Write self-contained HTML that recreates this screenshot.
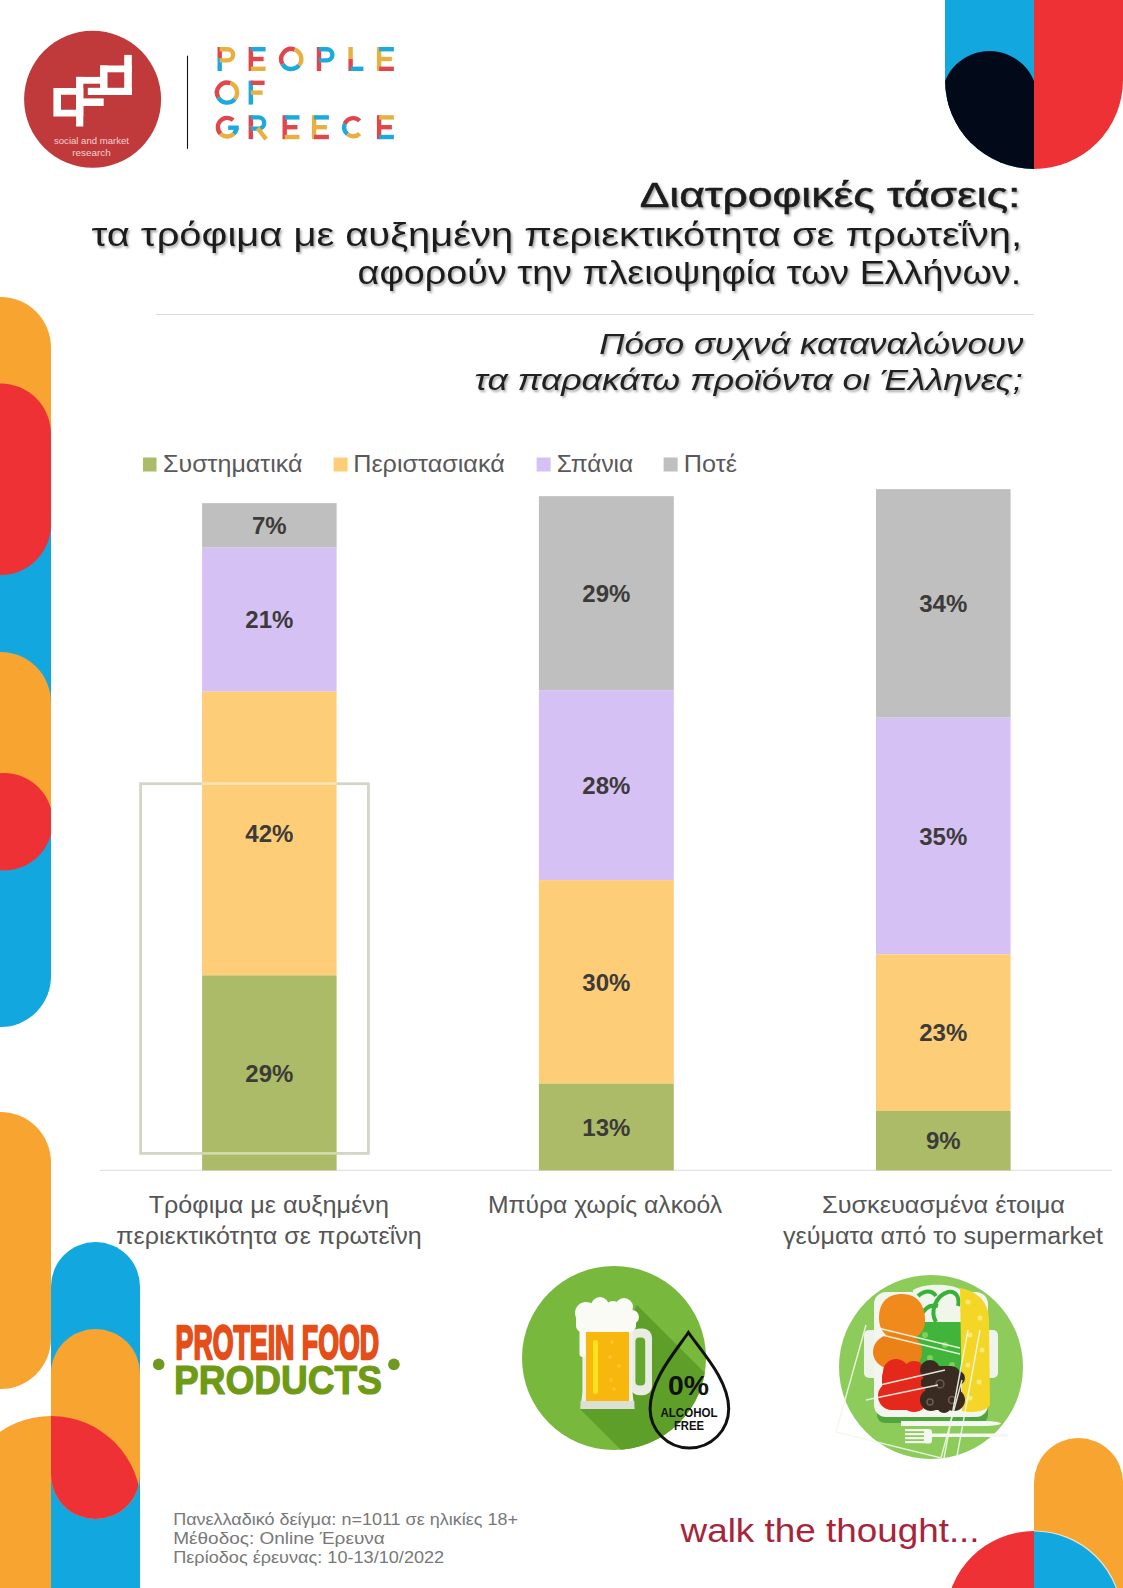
<!DOCTYPE html>
<html><head><meta charset="utf-8">
<style>
html,body{margin:0;padding:0;background:#fff;}
body{width:1123px;height:1588px;overflow:hidden;position:relative;}
svg{position:absolute;left:0;top:0;}
text{font-family:"Liberation Sans",sans-serif;}
</style></head>
<body>
<svg width="1123" height="1588" viewBox="0 0 1123 1588">
<defs>
<filter id="sh" x="-5%" y="-30%" width="110%" height="160%">
<feDropShadow dx="1.5" dy="2" stdDeviation="1.2" flood-color="#000" flood-opacity="0.35"/>
</filter>
<clipPath id="cCol"><rect x="945" y="0" width="89" height="200"/></clipPath>
<clipPath id="cTR"><path d="M945,0 H1123 V80 A89,89 0 0 1 945,80 Z"/></clipPath>
</defs>
<rect width="1123" height="1588" fill="#fff"/>

<!-- ===== left decorative strip ===== -->
<clipPath id="cLS"><rect x="-60" y="0" width="111" height="1588"/></clipPath>
<g id="leftstrip" clip-path="url(#cLS)">
<rect x="-50" y="430" width="101" height="597" rx="50.5" fill="#12a8df"/>
<rect x="-50" y="297" width="101" height="200" rx="50.5" fill="#f8a431"/>
<rect x="-50" y="383.5" width="101" height="191.5" rx="50.5" fill="#ee3135"/>
<rect x="-50" y="652" width="101" height="205" rx="50.5" fill="#f8a431"/>
<circle cx="4" cy="821.7" r="48.7" fill="#ee3135"/>
<rect x="-50" y="1112" width="101" height="277" rx="50.5" fill="#f8a431"/>
</g>


<!-- bottom-left decorations -->
<clipPath id="cC1"><rect x="-60" y="1300" width="111" height="300"/></clipPath>
<clipPath id="cOP"><rect x="51" y="1329" width="89" height="190" rx="44.5"/></clipPath>
<rect x="51" y="1242" width="89" height="400" rx="44.5" fill="#12a8df"/>
<rect x="51" y="1329" width="89" height="190" rx="44.5" fill="#f8a431"/>
<g clip-path="url(#cOP)"><circle cx="51" cy="1506" r="90" fill="#ee3135"/></g>
<g clip-path="url(#cC1)"><circle cx="51" cy="1506" r="90" fill="#f8a431"/><rect x="-60" y="1506" width="111" height="90" fill="#f8a431"/></g>

<!-- bottom-right decorations -->
<rect x="1034" y="1438" width="89" height="200" rx="44.5" fill="#f8a431"/>
<path d="M1034,1531 A88,88 0 0 0 946,1619 H1034 Z" fill="#ee3135"/>
<path d="M1034,1531 A88,88 0 0 1 1122,1619 H1034 Z" fill="#12a8df"/>
<path d="M1034,1531 A88,88 0 0 1 1122,1619" fill="none" stroke="#fff" stroke-opacity="0.7" stroke-width="1.2"/>

<!-- ===== top right decoration ===== -->
<g clip-path="url(#cTR)">
<rect x="945" y="0" width="89" height="200" fill="#12a8df"/>
<rect x="1034" y="0" width="89" height="200" fill="#ee3135"/>
<g clip-path="url(#cCol)"><circle cx="989.5" cy="99" r="48" fill="#020a1a"/>
<rect x="945" y="99" width="89" height="100" fill="#020a1a"/></g>
</g>

<!-- ===== logo ===== -->
<circle cx="92.6" cy="99.3" r="68.5" fill="#c03a3b"/>
<g fill="#fff">
<path fill-rule="evenodd" d="M53.4,87.9 H83.3 V116.6 H53.4 Z M61,94.7 V109.8 H76.1 V94.7 Z"/>
<rect x="76.1" y="76.9" width="7.2" height="49.6"/>
<rect x="76.1" y="76.9" width="23.9" height="6.8"/>
<rect x="76.1" y="98.4" width="27.6" height="7.6"/>
<rect x="87.8" y="87.8" width="44" height="7.2"/>
<rect x="100" y="65.5" width="7.5" height="29.2"/>
<rect x="100" y="65.5" width="31.8" height="6.8"/>
<rect x="124.2" y="54.9" width="7.6" height="39.8"/>
</g>
<text x="91.5" y="144" font-size="8.6" fill="#f4d2d2" text-anchor="middle" textLength="75" lengthAdjust="spacingAndGlyphs">social and market</text>
<text x="91.5" y="156" font-size="8.6" fill="#f4d2d2" text-anchor="middle" textLength="38.5" lengthAdjust="spacingAndGlyphs">research</text>
<line x1="187.5" y1="55.7" x2="187.5" y2="148.8" stroke="#111" stroke-width="1.1"/>

<!-- PEOPLE OF GREECE placeholder -->
<g id="pog" fill="none" stroke-width="4.4">
<path d="M219.7,47 V58" stroke="#e0474c"/>
<path d="M219.7,58 V71" stroke="#1da8de"/>
<path d="M219.7,49.2 H227.5 A5.6,5.6 0 0 1 227.5,60.4 H219.7" stroke="#e8b041"/>
<path d="M250.79999999999998,47 V71" stroke="#e0474c"/>
<path d="M250.79999999999998,49.2 H265.6" stroke="#1da8de"/>
<path d="M250.79999999999998,59 H263.6" stroke="#e0474c"/>
<path d="M250.79999999999998,68.8 H265.6" stroke="#e8b041"/>
<path d="M282.55,64.03 A10.05,10.05 0 0 1 294.69,49.56" stroke="#e0474c"/>
<path d="M294.69,49.56 A10.05,10.05 0 0 1 298.95,65.46" stroke="#e8b041"/>
<path d="M298.95,65.46 A10.05,10.05 0 0 1 282.55,64.03" stroke="#1da8de"/>
<path d="M319.0,47 V58" stroke="#e0474c"/>
<path d="M319.0,58 V71" stroke="#e0474c"/>
<path d="M319.0,49.2 H326.8 A5.6,5.6 0 0 1 326.8,60.4 H319.0" stroke="#1da8de"/>
<path d="M350.59999999999997,47 V59" stroke="#e8b041"/>
<path d="M350.59999999999997,59 V71" stroke="#e0474c"/>
<path d="M350.59999999999997,68.8 H363.4" stroke="#1da8de"/>
<path d="M379.09999999999997,47 V71" stroke="#e8b041"/>
<path d="M379.09999999999997,49.2 H393.9" stroke="#1da8de"/>
<path d="M379.09999999999997,59 H391.9" stroke="#e8b041"/>
<path d="M379.09999999999997,68.8 H393.9" stroke="#e0474c"/>
<path d="M218.35,97.62 A10.05,10.05 0 0 1 230.49,83.16" stroke="#e0474c"/>
<path d="M230.49,83.16 A10.05,10.05 0 0 1 234.75,99.06" stroke="#e8b041"/>
<path d="M234.75,99.06 A10.05,10.05 0 0 1 218.35,97.62" stroke="#1da8de"/>
<path d="M250.79999999999998,80.6 V104.6" stroke="#1da8de"/>
<path d="M250.79999999999998,82.8 H264.6" stroke="#e0474c"/>
<path d="M250.79999999999998,92.6 H262.6" stroke="#e8b041"/>
<path d="M220.62,133.78 A9.3,9.3 0 0 1 233.18,120.08" stroke="#e0474c"/>
<path d="M233.78,133.78 A9.3,9.3 0 0 1 220.62,133.78" stroke="#e8b041"/>
<path d="M236.50,127.20 A9.3,9.3 0 0 1 233.78,133.78" stroke="#1da8de"/>
<path d="M238.7,127.7 H228.2" stroke="#1da8de"/>
<path d="M250.79999999999998,115.2 V126.2" stroke="#e0474c"/>
<path d="M250.79999999999998,126.2 V139.2" stroke="#e0474c"/>
<path d="M250.79999999999998,117.4 H258.6 A5.6,5.6 0 0 1 258.6,128.6 H250.79999999999998" stroke="#1da8de"/>
<path d="M257.6,128.2 L266.1,139.2" stroke="#e8b041"/>
<path d="M284.7,115.2 V139.2" stroke="#e0474c"/>
<path d="M284.7,117.4 H299.5" stroke="#1da8de"/>
<path d="M284.7,127.2 H297.5" stroke="#e0474c"/>
<path d="M284.7,137.0 H299.5" stroke="#e8b041"/>
<path d="M314.09999999999997,115.2 V139.2" stroke="#e8b041"/>
<path d="M314.09999999999997,117.4 H328.9" stroke="#1da8de"/>
<path d="M314.09999999999997,127.2 H326.9" stroke="#e8b041"/>
<path d="M314.09999999999997,137.0 H328.9" stroke="#e0474c"/>
<path d="M344.75,124.10 A9.05,9.05 0 0 1 359.65,120.80" stroke="#e0474c"/>
<path d="M347.43,134.13 A9.05,9.05 0 0 1 344.75,124.10" stroke="#1da8de"/>
<path d="M359.65,133.60 A9.05,9.05 0 0 1 347.43,134.13" stroke="#e8b041"/>
<path d="M379.09999999999997,115.2 V139.2" stroke="#e0474c"/>
<path d="M379.09999999999997,117.4 H393.9" stroke="#e8b041"/>
<path d="M379.09999999999997,127.2 H391.9" stroke="#e0474c"/>
<path d="M379.09999999999997,137.0 H393.9" stroke="#1da8de"/>
</g>

<!-- ===== title ===== -->
<g filter="url(#sh)" fill="#1b1b1b">
<text x="1020.5" y="207.4" font-size="35.5" text-anchor="end" textLength="380.8" lengthAdjust="spacingAndGlyphs" stroke="#1b1b1b" stroke-width="0.5">Διατροφικές τάσεις:</text>
<text x="1022" y="245.6" font-size="33" text-anchor="end" textLength="930.5" lengthAdjust="spacingAndGlyphs">τα τρόφιμα με αυξημένη περιεκτικότητα σε πρωτεΐνη,</text>
<text x="1021.2" y="284.1" font-size="33" text-anchor="end" textLength="663.6" lengthAdjust="spacingAndGlyphs">αφορούν την πλειοψηφία των Ελλήνων.</text>
</g>
<line x1="156" y1="314.5" x2="1034" y2="314.5" stroke="#dcdcdc" stroke-width="1"/>

<g filter="url(#sh)" fill="#222" font-style="italic">
<text x="1023.4" y="353.9" font-size="30" text-anchor="end" textLength="424.1" lengthAdjust="spacingAndGlyphs">Πόσο συχνά καταναλώνουν</text>
<text x="1022.6" y="390.4" font-size="30" text-anchor="end" textLength="548" lengthAdjust="spacingAndGlyphs">τα παρακάτω προϊόντα οι Έλληνες;</text>
</g>

<!-- ===== legend ===== -->
<g font-size="23" fill="#595959">
<rect x="143" y="457.5" width="13.5" height="14" fill="#acbb67"/>
<text x="163" y="471.8" textLength="139.4" lengthAdjust="spacingAndGlyphs">Συστηματικά</text>
<rect x="333.6" y="457.5" width="14" height="14" fill="#fdcd77"/>
<text x="353.2" y="471.8" textLength="151.6" lengthAdjust="spacingAndGlyphs">Περιστασιακά</text>
<rect x="536.6" y="457.5" width="14" height="14" fill="#d6c1f4"/>
<text x="556.8" y="471.8" textLength="76.4" lengthAdjust="spacingAndGlyphs">Σπάνια</text>
<rect x="663.6" y="457.5" width="14" height="14" fill="#bfbfbf"/>
<text x="683.8" y="471.8" textLength="53.1" lengthAdjust="spacingAndGlyphs">Ποτέ</text>
</g>

<!-- ===== bars ===== -->
<rect x="140.6" y="783.7" width="227.8" height="369.7" fill="none" stroke="#d3d6c5" stroke-width="2.8"/>

<line x1="100" y1="1170.3" x2="1112" y2="1170.3" stroke="#e3e3e3" stroke-width="1.3"/>
<g>
<rect x="202.1" y="503.15" width="134.5" height="44.45" fill="#bfbfbf"/>
<rect x="202.1" y="547.6" width="134.5" height="144.0" fill="#d6c1f4"/>
<rect x="202.1" y="691.6" width="134.5" height="283.8" fill="#fdcd77"/>
<rect x="202.1" y="975.4" width="134.5" height="195.0" fill="#acbb67"/>
<rect x="538.9" y="496.15" width="134.9" height="193.95" fill="#bfbfbf"/>
<rect x="538.9" y="690.1" width="134.9" height="190.05" fill="#d6c1f4"/>
<rect x="538.9" y="880.15" width="134.9" height="203.5" fill="#fdcd77"/>
<rect x="538.9" y="1083.65" width="134.9" height="86.75" fill="#acbb67"/>
<rect x="876.0" y="489.15" width="134.6" height="228.45" fill="#bfbfbf"/>
<rect x="876.0" y="717.6" width="134.6" height="236.8" fill="#d6c1f4"/>
<rect x="876.0" y="954.4" width="134.6" height="156.5" fill="#fdcd77"/>
<rect x="876.0" y="1110.9" width="134.6" height="59.5" fill="#acbb67"/>
</g>
<g font-size="24" font-weight="bold" fill="#3d3b3a" text-anchor="middle">
<text x="269.35" y="533.98">7%</text>
<text x="269.35" y="628.2">21%</text>
<text x="269.35" y="842.1">42%</text>
<text x="269.35" y="1081.5">29%</text>
<text x="606.35" y="601.73">29%</text>
<text x="606.35" y="793.73">28%</text>
<text x="606.35" y="990.5">30%</text>
<text x="606.35" y="1135.62">13%</text>
<text x="943.3" y="611.98">34%</text>
<text x="943.3" y="844.6">35%</text>
<text x="943.3" y="1041.25">23%</text>
<text x="943.3" y="1149.25">9%</text>
</g>
<!-- highlight rect -->
<line x1="202.1" y1="783.7" x2="336.6" y2="783.7" stroke="#fff" stroke-opacity="0.45" stroke-width="2.8"/>
<line x1="202.1" y1="1153.4" x2="336.6" y2="1153.4" stroke="#fff" stroke-opacity="0.45" stroke-width="2.8"/>

<!-- category labels -->
<g font-size="23" fill="#555" text-anchor="middle">
<text x="268.8" y="1212.7" textLength="240.2" lengthAdjust="spacingAndGlyphs">Τρόφιμα με αυξημένη</text>
<text x="269" y="1244.2" textLength="305.4" lengthAdjust="spacingAndGlyphs">περιεκτικότητα σε πρωτεΐνη</text>
<text x="605" y="1212.7" textLength="234" lengthAdjust="spacingAndGlyphs">Μπύρα χωρίς αλκοόλ</text>
<text x="943.5" y="1212.7" textLength="243" lengthAdjust="spacingAndGlyphs">Συσκευασμένα έτοιμα</text>
<text x="943" y="1244.2" textLength="320" lengthAdjust="spacingAndGlyphs">γεύματα από το supermarket</text>
</g>


<!-- ===== protein food products ===== -->
<text x="175.6" y="1358.5" font-size="48" font-weight="bold" fill="#e54e18" stroke="#e54e18" stroke-width="2.4" stroke-linejoin="round" textLength="203.4" lengthAdjust="spacingAndGlyphs">PROTEIN FOOD</text>
<text x="174.1" y="1393.7" font-size="41.5" font-weight="bold" fill="#6f9a16" textLength="207.8" lengthAdjust="spacingAndGlyphs" stroke="#6f9a16" stroke-width="1.2" stroke-linejoin="round">PRODUCTS</text>
<circle cx="158.7" cy="1364.4" r="5.8" fill="#6e9a1f"/>
<circle cx="393.9" cy="1364.4" r="5.8" fill="#6e9a1f"/>

<!-- ===== beer icon ===== -->
<clipPath id="cBeer"><circle cx="614" cy="1358" r="92"/></clipPath>
<circle cx="614" cy="1358" r="92" fill="#78b83c"/>
<g clip-path="url(#cBeer)">
<path d="M637,1305 L837,1505 L780,1609 L580,1409 Z" fill="#5e9f2a"/>
</g>
<g id="mug">
<rect x="630" y="1328.6" width="22" height="66.6" rx="9" fill="#e9ece2"/>
<rect x="635.4" y="1337.4" width="9.8" height="48" rx="4" fill="#64a82f"/>
<path d="M580.5,1327 H634.4 L632.5,1345 V1392 L634.4,1409 H580.5 L582.4,1392 V1345 Z" fill="#eef0e6"/>
<rect x="586" y="1330" width="43" height="71" fill="#f8b70c"/>
<rect x="593" y="1340" width="5" height="54" rx="2" fill="#ffe11c"/>
<g fill="#fcc733"><circle cx="612" cy="1342" r="1.8"/><circle cx="610" cy="1357" r="1.8"/><circle cx="619" cy="1366" r="1.8"/><circle cx="611" cy="1380" r="1.8"/><circle cx="614" cy="1389" r="1.8"/></g>
<rect x="580.5" y="1401" width="53.9" height="8" fill="#dcdfd4"/>
<g fill="#fbfbf6">
<circle cx="586" cy="1313" r="11"/>
<circle cx="600" cy="1306" r="9"/>
<circle cx="613" cy="1309" r="8"/>
<circle cx="624" cy="1307" r="9"/>
<circle cx="632" cy="1317" r="7"/>
<rect x="576" y="1312" width="60" height="20" rx="6"/>
<rect x="579.5" y="1320" width="6" height="37" rx="3"/>
</g>
</g>
<path d="M688.4,1332.5 C702,1352 728.7,1380 728.7,1408.7 A39.3,39.3 0 0 1 650.1,1408.7 C650.1,1380 675,1352 688.4,1332.5 Z" fill="none" stroke="#111" stroke-width="3"/>
<g font-weight="bold" fill="#111" text-anchor="middle">
<text x="688.5" y="1395.2" font-size="28" textLength="41" lengthAdjust="spacingAndGlyphs">0%</text>
<text x="689" y="1416.7" font-size="12.2" textLength="57" lengthAdjust="spacingAndGlyphs">ALCOHOL</text>
<text x="689" y="1429.5" font-size="12.2" textLength="30" lengthAdjust="spacingAndGlyphs">FREE</text>
</g>

<!-- ===== food icon ===== -->
<circle cx="931" cy="1367" r="92" fill="#8dcb5a"/>
<rect x="877" y="1402" width="111" height="21" rx="8" fill="#4fa63c"/>
<rect x="864" y="1330" width="134" height="48" rx="5" fill="#eef4ea"/>
<rect x="874" y="1292" width="114" height="125" rx="12" fill="#f2f6ee"/>
<g>
<path d="M913,1290 C925,1283 950,1283 962,1290 L962,1376 L914,1376 Z" fill="#f1f6ea"/>
<path d="M913,1322 L962,1322 L962,1376 L914,1376 Z" fill="#41b43b"/>
<g fill="none" stroke="#39b03a" stroke-width="4">
<path d="M918,1296 C925,1290 932,1290 936,1296"/>
<path d="M936,1322 C930,1312 935,1296 948,1292 C956,1290 960,1298 958,1306"/>
<path d="M920,1318 C924,1308 930,1304 938,1306"/>
</g>
<g fill="#7fd05a"><circle cx="925" cy="1335" r="3"/><circle cx="945" cy="1345" r="3"/><circle cx="930" cy="1358" r="3"/><circle cx="952" cy="1365" r="3"/></g>
<path d="M879,1318 C879,1300 890,1294 902,1294 C918,1294 925,1306 925,1320 C925,1332 918,1340 902,1340 C888,1340 879,1332 879,1318 Z" fill="#f08a1c"/>
<path d="M873,1352 C873,1340 885,1333 898,1333 C914,1333 922,1342 922,1352 C922,1364 912,1370 898,1370 C882,1370 873,1362 873,1352 Z" fill="#ec8217"/>
<path d="M960,1288 C974,1290 989,1300 989,1320 L990,1405 C986,1412 972,1413 962,1411 Z" fill="#f4d626"/>
<g fill="#fbea7a"><circle cx="968" cy="1302" r="2.5"/><circle cx="980" cy="1318" r="2.5"/><circle cx="970" cy="1335" r="2.5"/><circle cx="982" cy="1350" r="2.5"/><circle cx="968" cy="1365" r="2.5"/><circle cx="979" cy="1382" r="2.5"/><circle cx="970" cy="1398" r="2.5"/></g>
<rect x="882" y="1366" width="42" height="44" rx="10" fill="#e5281c"/>
<rect x="921" y="1366" width="40" height="44" rx="10" fill="#3a2b22"/>
<g fill="#e5281c"><circle cx="896" cy="1372" r="13"/><circle cx="914" cy="1372" r="11"/><circle cx="892" cy="1396" r="14"/><circle cx="914" cy="1398" r="14"/><circle cx="903" cy="1384" r="12"/></g>
<g fill="#3a2b22"><circle cx="930" cy="1370" r="10"/><circle cx="944" cy="1386" r="13"/><circle cx="954" cy="1400" r="11"/><circle cx="931" cy="1400" r="11"/><circle cx="958" cy="1378" r="7"/><circle cx="944" cy="1406" r="7"/></g>
<g fill="none" stroke="#6b5d52" stroke-width="1.5"><circle cx="940" cy="1384" r="4"/><circle cx="952" cy="1400" r="3.5"/><circle cx="930" cy="1402" r="3"/></g>
</g>
<g fill="none" stroke="#f2f8ec" stroke-width="1.4" opacity="0.9">
<path d="M866,1325 L836,1432 L941,1458 L962,1380"/>
<path d="M944,1458 L968,1330"/>
<path d="M957,1456 L980,1330"/>
<path d="M878,1328 L960,1348"/>
<path d="M878,1334 L960,1354"/>
<path d="M880,1385 L945,1370"/>
<path d="M866,1400 L938,1385"/>
</g>
<g fill="#f5f8f2">
<path d="M901,1421 H985 C993,1421 1000,1422 1001,1423.5 C1000,1425 993,1426 985,1426 H901 Z"/>
<rect x="928" y="1433.5" width="80" height="3.5" rx="1.7"/>
<rect x="905" y="1429" width="24" height="2.2"/>
<rect x="905" y="1433" width="24" height="2.2"/>
<rect x="905" y="1437" width="24" height="2.2"/>
<rect x="905" y="1441" width="24" height="2.2"/>
<rect x="924" y="1429" width="8" height="14.5" rx="3"/>
</g>
<!-- footnote -->
<g font-size="16.5" fill="#787878">
<text x="173.2" y="1525" textLength="344.8" lengthAdjust="spacingAndGlyphs">Πανελλαδικό δείγμα: n=1011 σε ηλικίες 18+</text>
<text x="173.2" y="1543.5" textLength="211.6" lengthAdjust="spacingAndGlyphs">Μέθοδος: Online Έρευνα</text>
<text x="173.2" y="1562.7" textLength="271" lengthAdjust="spacingAndGlyphs">Περίοδος έρευνας: 10-13/10/2022</text>
</g>
<text x="680.6" y="1541.6" font-size="33" fill="#a8243a" textLength="299" lengthAdjust="spacingAndGlyphs">walk the thought...</text>

</svg>
</body></html>
